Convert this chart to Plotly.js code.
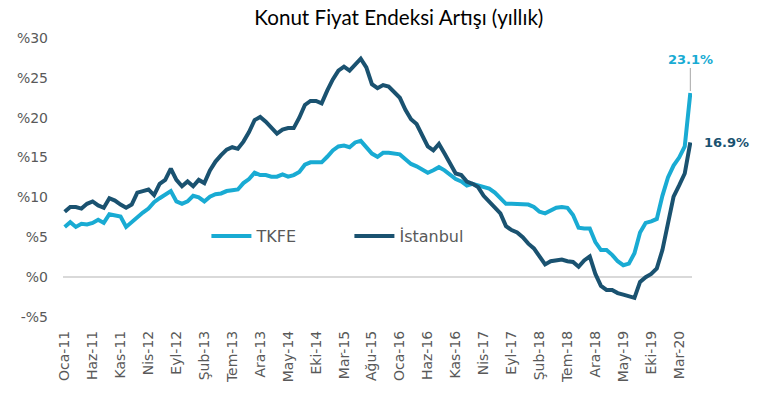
<!DOCTYPE html>
<html>
<head>
<meta charset="utf-8">
<script src="https://cdn.plot.ly/plotly-3.0.1.min.js"></script>
<style>html,body{margin:0;padding:0;background:#fff;}#chart{width:773px;height:403px;}</style>
</head>
<body>
<div id="chart"></div>
<script>
// Turkish month abbreviations used for category labels
const monthNames = ["Oca","Şub","Mar","Nis","May","Haz","Tem","Ağu","Eyl","Eki","Kas","Ara"];
const startYear = 2011;
const nPoints = 113; // Oca-11 .. May-20

// Annual house price index change (%)
const tkfe = [
  6.3, 6.9, 6.3, 6.7, 6.6, 6.8, 7.2, 6.8, 7.9, 7.8, 7.6, 6.3,
  6.9, 7.6, 8.1, 8.6, 9.4, 9.9, 10.3, 10.8, 9.5, 9.2, 9.5, 10.2,
  10.0, 9.5, 10.1, 10.4, 10.5, 10.8, 10.9, 11.0, 11.8, 12.3, 13.1, 12.8,
  12.8, 12.6, 12.6, 12.9, 12.6, 12.8, 13.2, 14.1, 14.4, 14.4, 14.4, 15.1,
  15.9, 16.4, 16.5, 16.3, 16.9, 17.1, 16.3, 15.5, 15.1, 15.6, 15.6, 15.5,
  15.4, 14.8, 14.2, 13.9, 13.5, 13.1, 13.4, 13.8, 13.4, 12.9, 12.3, 12.0,
  11.5, 11.7, 11.5, 11.3, 11.1, 10.6, 9.9, 9.2, 9.2, 9.2, 9.2, 9.1,
  8.8, 8.2, 8.0, 8.3, 8.7, 8.8, 8.7, 7.8, 6.2, 6.1, 6.1, 4.4,
  3.4, 3.4, 2.8, 2.0, 1.5, 1.7, 3.0, 5.6, 6.8, 7.0, 7.3, 10.2,
  12.5, 14.0, 15.0, 16.4, 23.1
];
const istanbul = [
  8.2, 8.8, 8.8, 8.6, 9.2, 9.5, 9.0, 8.7, 9.9, 9.6, 9.1, 8.7,
  9.1, 10.6, 10.8, 11.0, 10.3, 11.7, 12.2, 13.6, 12.2, 11.4, 12.0, 11.4,
  12.2, 11.8, 13.4, 14.5, 15.3, 16.0, 16.3, 16.1, 17.0, 18.2, 19.7, 20.1,
  19.5, 18.8, 18.0, 18.5, 18.7, 18.7, 20.0, 21.6, 22.1, 22.1, 21.8, 23.4,
  24.8, 25.9, 26.4, 25.9, 26.7, 27.4, 26.3, 24.2, 23.7, 24.1, 23.9, 23.2,
  22.5, 21.0, 19.8, 19.2, 17.8, 16.4, 15.9, 16.7, 15.5, 14.3, 13.0, 12.8,
  12.0, 11.7, 11.3, 10.2, 9.5, 8.8, 8.0, 6.4, 5.9, 5.6, 5.0, 4.2,
  3.6, 2.6, 1.6, 2.0, 2.1, 2.2, 2.0, 1.9, 1.3, 2.1, 2.6, 0.4,
  -1.1, -1.6, -1.6, -2.0, -2.2, -2.4, -2.6, -0.6, 0.0, 0.4, 1.1, 3.4,
  6.7, 10.1, 11.5, 13.0, 16.9
];

const seriesNames = ["TKFE", "İstanbul"];
const seriesColors = ["#19ABD3", "#1A5270"];

const yTickVals = [-5, 0, 5, 10, 15, 20, 25, 30];
const yTickText = ["-%5", "%0", "%5", "%10", "%15", "%20", "%25", "%30"];

// category labels
const months = [];
for (let i = 0; i < nPoints; i++) {
  const m = i % 12, y = startYear + Math.floor(i / 12);
  months.push(monthNames[m] + "-" + String(y).slice(2));
}
const xTickVals = months.filter((_, i) => i % 5 === 0);

const tickFont = {family: "DejaVu Sans, sans-serif", size: 14, color: "#595959"};

const traces = [tkfe, istanbul].map((vals, k) => ({
  type: "scatter",
  mode: "lines",
  x: months,
  y: vals,
  name: seriesNames[k],
  line: {color: seriesColors[k], width: 4},
  hoverinfo: "skip"
}));

const last = nPoints - 1;
const annotations = [
  {
    x: months[last], y: tkfe[last], xref: "x", yref: "y",
    text: "<b>" + tkfe[last].toFixed(1) + "%</b>",
    showarrow: true, arrowhead: 0, arrowwidth: 1, arrowcolor: "#A6A6A6",
    ax: 0, ay: -34, standoff: 2,
    font: {family: "DejaVu Sans, sans-serif", size: 13, color: seriesColors[0]}
  },
  {
    x: months[last], y: istanbul[last], xref: "x", yref: "y",
    text: "<b>" + istanbul[last].toFixed(1) + "%</b>",
    showarrow: false, xanchor: "left", xshift: 12,
    font: {family: "DejaVu Sans, sans-serif", size: 13, color: seriesColors[1]}
  }
];

const layout = {
  width: 773, height: 403,
  margin: {l: 63, r: 81, t: 38, b: 86},
  paper_bgcolor: "#ffffff", plot_bgcolor: "#ffffff",
  title: {
    text: "Konut Fiyat Endeksi Artışı (yıllık)",
    font: {family: "Lato, sans-serif", size: 20.6, color: "#000000"},
    x: 0.516, xref: "container", xanchor: "center",
    y: 0.955, yref: "container", yanchor: "middle"
  },
  showlegend: true,
  legend: {
    orientation: "h", x: 0.228, xanchor: "left", y: 0.29, yanchor: "middle",
    font: {family: "DejaVu Sans, sans-serif", size: 16, color: "#595959"},
    bgcolor: "rgba(0,0,0,0)", entrywidth: 88, entrywidthmode: "pixels",
    itemwidth: 40
  },
  xaxis: {
    type: "category",
    range: [-0.3, last + 0.3],
    tickmode: "array", tickvals: xTickVals, ticktext: xTickVals,
    tickangle: -90, tickfont: tickFont,
    showgrid: false, zeroline: false, showline: false, ticks: "",
    ticklabelstandoff: 10
  },
  yaxis: {
    range: [-5, 30],
    tickmode: "array", tickvals: yTickVals, ticktext: yTickText,
    tickfont: tickFont,
    showgrid: false, zeroline: true, zerolinecolor: "#D9D9D9", zerolinewidth: 1.5,
    showline: false, ticks: "", ticklabelstandoff: 14
  },
  annotations: annotations
};

Plotly.newPlot("chart", traces, layout, {staticPlot: true, displayModeBar: false});
</script>
</body>
</html>
